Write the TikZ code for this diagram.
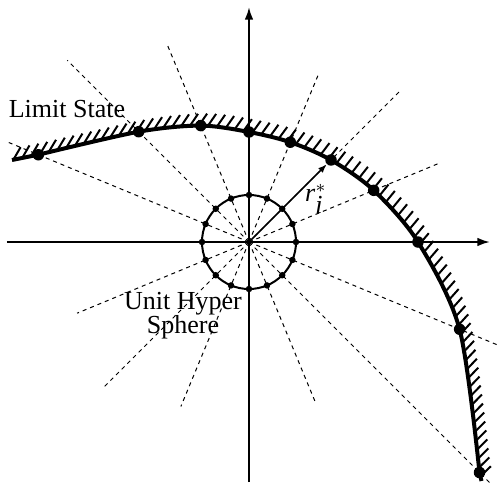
\documentclass[tikz,border=0pt]{standalone}
\usepackage{fontspec}
\setmainfont{Liberation Serif}
\usetikzlibrary{arrows.meta,decorations.markings}
\tikzset{
  %% Axes
  axis/.style={line width=0.8pt, -{Latex[length=5pt,width=3.4pt]}},
  %% Dashed search directions
  ray/.style={dash pattern=on 1.6pt off 1.6pt, line width=0.4pt},
  %% Unit hyper sphere and its points
  usph/.style={line width=0.8pt},
  usdot/.style={circle, fill, inner sep=0pt, minimum size=2.6pt},
  %% Limit state surface with hatching
  lsdot/.style={circle, fill, inner sep=0pt, minimum size=4.6pt},
  lscurve/.style={line width=1.6pt},
  lshatch/.style={decorate, decoration={markings,
    mark=between positions 0.002 and 1 step 3.6pt with {
      \pgfmathsetmacro\tang{60-16*\pgfkeysvalueof{/pgf/decoration/mark info/distance from start}/\pgfdecoratedpathlength}
      \pgftransformresetnontranslations
      \draw[line width=0.8pt] (0,0) -- (\tang:14.5);}}},
  rvec/.style={line width=0.6pt, -{Latex[length=3.4pt,width=2.6pt]}},
  lbl/.style={font=\fontsize{10.4}{9.6}\selectfont, align=center, inner sep=0pt},
}
\begin{document}
\begin{tikzpicture}[x=0.4pt, y=0.4pt]
\useasboundingbox (-249,-246) rectangle (253,242);
\coordinate (O) at (0,0);

%% Dashed rays
\foreach \a/\len in {157.5/260, 135/257, 112.5/212, 67.5/181, 45/215, 22.5/204,
  -22.5/272, -45/343, -67.5/176, -112.5/178, -135/208, -157.5/186}
  \draw[ray] (O) -- (\a:\len);

%% Axes
\coordinate (xl) at (-242,0);
\coordinate (xr) at (241,0);
\coordinate (yb) at (0,-240);
\coordinate (yt) at (0,235);
\draw[axis] (xl) -- (xr);
\draw[axis] (yb) -- (yt);

%% Unit hyper sphere
\draw[usph] (O) circle (47);
\foreach \k in {0,...,15}
  \node[usdot] (u\k) at (\k*22.5:47) {};

%% Limit state
\draw[lscurve] (-237,82) -- plot[smooth] coordinates {(-210.6,87.3) (-110.3,110.3)
  (-48.2,116.4) (0,110) (41.3,99.8) (82,82) (124.7,51.7) (169,0) (210.6,-87.3)
  (230.5,-230.5)} -- (232.5,-239);
\path[lshatch] (-237,82) -- plot[smooth] coordinates {(-210.6,87.3) (-110.3,110.3)
  (-48.2,116.4) (0,110) (41.3,99.8) (82,82) (124.7,51.7) (169,0) (210.6,-87.3)
  (230.5,-230.5)} -- (232.5,-239);
\foreach \a/\r [count=\i] in {157.5/228, 135/156, 112.5/126, 90/110, 67.5/108,
  45/116, 22.5/135, 0/169, -22.5/228, -45/326}
  \node[lsdot] (l\i) at (\a:\r) {};

%% Distance to the limit state
\draw[rvec] (O) -- (l6);
\node[lbl] (rlbl) at (67,43) {$\textit{r}_{\textit{i}}^{*}$};

%% Labels
\node[lbl] (lstate) at (-182,133) {Limit State};
\node[lbl] (usphere) at (-66,-74) {Unit Hyper\\Sphere};

\end{tikzpicture}
\end{document}
